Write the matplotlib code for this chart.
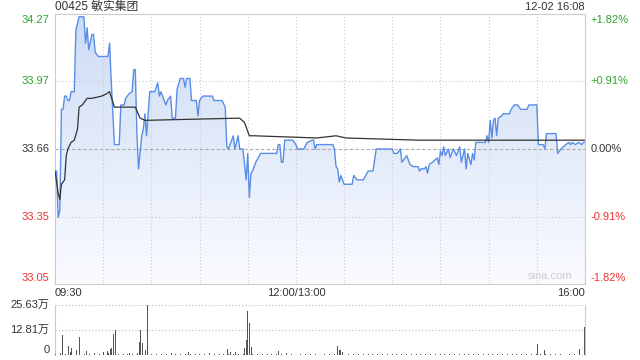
import numpy as np
import matplotlib.pyplot as plt
from matplotlib.patches import Polygon

plt.rcParams['font.family'] = ['Liberation Sans', 'Noto Sans CJK SC', 'DejaVu Sans']

# minutes after 09:30 (12:00 and 13:00 share minute 150), close at 330
prev_close = 33.66
y_labels_left = ['34.27', '33.97', '33.66', '33.35', '33.05']
y_labels_right = ['+1.82%', '+0.91%', '0.00%', '-0.91%', '-1.82%']
y_ticks = [34.27, 33.97, 33.66, 33.35, 33.05]
x_labels = ['09:30', '12:00/13:00', '16:00']

price_min = [0, 1, 2, 3, 4, 5, 6, 7, 8, 9, 10, 12, 13, 15, 18, 19, 20, 21, 23, 24,
             25, 27, 33, 34, 35, 37, 40, 41, 43, 44, 46, 48, 49, 50, 51, 52, 54, 55, 56, 57,
             59, 62, 64, 65, 66, 67, 69, 70, 72, 73, 75, 76, 78, 80, 81, 82, 84, 85, 88, 89,
             90, 92, 98, 99, 104, 106, 107, 108, 109, 111, 112, 114, 115, 117, 119, 120, 121, 122, 123, 125,
             128, 138, 139, 140, 141, 142, 143, 148, 150, 151, 155, 157, 160, 161, 162, 163, 165, 173, 174, 175,
             176, 177, 178, 180, 185, 186, 188, 192, 195, 198, 200, 210, 211, 213, 215, 216, 219, 221, 223, 226,
             227, 228, 230, 231, 232, 233, 235, 238, 239, 240, 241, 242, 243, 245, 246, 248, 250, 252, 253, 255,
             256, 257, 259, 260, 261, 262, 268, 269, 270, 271, 272, 273, 274, 275, 276, 278, 279, 283, 284, 286,
             288, 290, 294, 295, 300, 301, 304, 305, 306, 312, 313, 315, 318, 320, 321, 322, 324, 326, 328, 329,
             330]
price_val = [33.56, 33.56, 33.35, 33.38, 33.84, 33.84, 33.90, 33.90, 33.88, 33.88, 33.92, 33.92, 34.20, 34.26, 34.26, 34.14, 34.21, 34.11, 34.18, 34.18,
             34.10, 34.08, 34.08, 34.14, 33.97, 33.68, 33.68, 33.86, 33.86, 33.89, 33.91, 33.92, 34.02, 34.02, 33.73, 33.57, 33.72, 33.75, 33.82, 33.72,
             33.92, 33.92, 33.96, 33.90, 33.92, 33.90, 33.86, 33.88, 33.90, 33.80, 33.80, 33.93, 33.98, 33.98, 33.94, 33.98, 33.98, 33.88, 33.88, 33.81,
             33.88, 33.90, 33.90, 33.88, 33.88, 33.85, 33.67, 33.66, 33.68, 33.72, 33.66, 33.72, 33.66, 33.66, 33.52, 33.64, 33.44, 33.55, 33.56, 33.60,
             33.64, 33.64, 33.68, 33.68, 33.60, 33.60, 33.70, 33.70, 33.68, 33.66, 33.66, 33.69, 33.70, 33.70, 33.66, 33.68, 33.68, 33.68, 33.66, 33.58,
             33.57, 33.51, 33.54, 33.50, 33.50, 33.54, 33.52, 33.52, 33.56, 33.56, 33.66, 33.66, 33.64, 33.64, 33.66, 33.60, 33.63, 33.59, 33.58, 33.58,
             33.56, 33.57, 33.57, 33.58, 33.55, 33.59, 33.60, 33.62, 33.59, 33.65, 33.63, 33.67, 33.63, 33.66, 33.62, 33.66, 33.63, 33.67, 33.60, 33.66,
             33.57, 33.64, 33.59, 33.64, 33.61, 33.69, 33.69, 33.72, 33.69, 33.79, 33.71, 33.79, 33.80, 33.72, 33.80, 33.81, 33.82, 33.82, 33.84, 33.86,
             33.86, 33.84, 33.84, 33.86, 33.86, 33.68, 33.68, 33.66, 33.73, 33.73, 33.64, 33.66, 33.68, 33.69, 33.68, 33.69, 33.68, 33.69, 33.68, 33.69,
             33.69]

avg_min = [0, 2, 3, 4, 6, 7, 8, 10, 12, 14, 15, 17, 20, 23, 29, 32, 34, 37, 50, 53,
           56, 115, 118, 121, 124, 163, 175, 181, 227, 263, 290, 330]
avg_val = [33.56, 33.46, 33.43, 33.50, 33.52, 33.63, 33.66, 33.69, 33.70, 33.75, 33.85, 33.86, 33.89, 33.89, 33.90, 33.91, 33.92, 33.85, 33.85, 33.80,
           33.79, 33.80, 33.78, 33.72, 33.72, 33.71, 33.72, 33.71, 33.70, 33.70, 33.70, 33.70]

# volume in 万 shares
vol_max = 25.63
vol_small = [0.5, 0.8, 0.6, 0.9, 0.7, 0.5, 0.6, 0.4, 0.8, 0.5,
             0.6, 0.9, 0.5, 0.7, 0.6, 0.4, 0.5, 0.8, 0.6, 0.5,
             0.7, 0.4, 0.6, 0.5, 0.9, 0.5, 0.6, 0.4, 0.7, 0.5,
             0.6, 0.5, 0.8, 0.4, 0.6, 0.5, 0.7, 0.5, 0.6, 0.4,
             0.5, 0.6, 0.4, 0.7, 0.5, 0.6, 0.4, 0.5, 0.8, 0.5,
             0.6, 0.4, 0.5, 0.6, 0.4, 0.7, 0.5, 0.4, 0.6, 0.5,
             0.4, 0.6, 0.5, 0.7, 0.4, 0.5, 0.6, 0.4, 0.5, 0.6,
             0.4, 0.5, 0.7, 0.4, 0.6, 0.5, 0.4, 0.6, 0.5, 0.4,
             0.6, 0.5, 0.4, 0.7, 0.5, 0.4, 0.6, 0.5, 0.4, 0.5,
             0.6, 0.4, 0.5, 0.6, 0.4, 0.5, 0.7, 0.4, 0.5, 0.6,
             0.4, 0.5, 0.6, 0.4, 0.5, 0.6, 0.4, 0.5, 0.6, 0.5, 0.6]
vol_min = [4, 8, 9, 10, 13, 15, 19, 30, 32, 34, 35, 36, 37, 46, 52, 53, 54, 56, 57, 83,
           107, 109, 112, 118, 119, 120, 121, 122, 139, 176, 177, 178, 179, 301, 305, 327, 330]
vol_val = [10.3, 4.6, 1.7, 3.8, 2.6, 9.4, 2.0, 1.4, 2.0, 3.1, 3.4, 10.6, 12.8, 0.9, 6.5, 12.8, 6.0, 2.6, 25.63, 1.7,
           3.1, 1.4, 1.7, 3.8, 7.7, 22.6, 16.2, 4.3, 2.0, 4.6, 2.6, 2.6, 1.7, 5.6, 2.6, 2.9, 14.2]

green = '#2aa52a'
red = '#f23030'
dark = '#333333'
label_colors = [green, green, dark, red, red]

ymin, ymax = prev_close - 0.6126, prev_close + 0.6126

fig = plt.figure(figsize=(6.4, 3.6), dpi=100)
ax = fig.add_axes([55/640, 76/360, 530/640, 270/360])
vax = fig.add_axes([55/640, 5/360, 530/640, 50/360])

# gradient fill under the price line
verts = list(zip(price_min, price_val)) + [(330, ymin), (0, ymin)]
poly = Polygon(verts, closed=True, facecolor='none', edgecolor='none')
ax.add_patch(poly)
g = np.linspace(0, 1, 256)[:, None, None]
top_c = np.array([0.80, 0.86, 0.96])
bot_c = np.array([0.98, 0.985, 1.0])
img = top_c * (1 - g) + bot_c * g
im = ax.imshow(img, extent=[0, 330, ymin, ymax], aspect='auto', origin='upper', zorder=1)
im.set_clip_path(poly)

ax.plot(price_min, price_val, color='#5a8de6', lw=1.0, zorder=3)
ax.plot(avg_min, avg_val, color=dark, lw=0.9, zorder=4)

ax.set_xlim(0, 330)
ax.set_ylim(ymin, ymax)
for t in range(30, 330, 30):
    ax.axvline(t, color='#cccccc', lw=0.8, ls=(0, (1, 2)), zorder=2)
for v in [33.97, 33.35]:
    ax.axhline(v, color='#cccccc', lw=0.8, ls=(0, (1, 2)), zorder=2)
ax.axhline(prev_close, color='#aaaaaa', lw=0.8, ls=(0, (3, 2)), zorder=2)
ax.set_xticks([])
ax.set_yticks([])
for s in ax.spines.values():
    s.set_color('#cccccc')

tr = ax.get_yaxis_transform()
for i, (v, l, r, c) in enumerate(zip(y_ticks, y_labels_left, y_labels_right, label_colors)):
    va = 'top' if i == 0 else ('bottom' if i == 4 else 'center')
    ax.text(-0.01, v, l, transform=tr, ha='right', va=va, color=c, fontsize=8)
    ax.text(1.01, v, r, transform=tr, ha='left', va=va, color=c, fontsize=8)

ax.text(0, -0.015, x_labels[0], transform=ax.transAxes, ha='left', va='top', fontsize=8, color=dark)
ax.text(150/330, -0.015, x_labels[1], transform=ax.transAxes, ha='center', va='top', fontsize=8, color=dark)
ax.text(1, -0.015, x_labels[2], transform=ax.transAxes, ha='right', va='top', fontsize=8, color=dark)
ax.text(0.976, 0.01, 'sina.com', transform=ax.transAxes, ha='right', va='bottom', fontsize=8, color='#cccccc')

fig.text(55/640, 1 - 7/360, '00425 敏实集团', ha='left', va='center', fontsize=8.5, color=dark)
fig.text(585/640, 1 - 7/360, '12-02 16:08', ha='right', va='center', fontsize=8, color=dark)

# volume panel
vols = {}
for i, v in enumerate(vol_small):
    vols[i * 3] = v
for m, v in zip(vol_min, vol_val):
    vols[m] = v
vax.bar(list(vols.keys()), list(vols.values()), width=0.6, color='#555555', zorder=3)
vax.set_xlim(-0.5, 330.5)
vax.set_ylim(0, vol_max)
vax.axhline(vol_max, color='#bbbbbb', lw=0.8, ls=(0, (1, 2)))
vax.axhline(vol_max / 2, color='#bbbbbb', lw=0.8, ls=(0, (1, 2)))
vax.set_xticks([])
vax.set_yticks([])
vax.spines['top'].set_visible(False)
vax.spines['bottom'].set_visible(False)
vax.spines['left'].set_color('#cccccc')
vax.spines['right'].set_color('#cccccc')
vtr = vax.get_yaxis_transform()
vax.text(-0.01, vol_max, '25.63万', transform=vtr, ha='right', va='center', fontsize=8, color=dark)
vax.text(-0.01, 12.81, '12.81万', transform=vtr, ha='right', va='center', fontsize=8, color=dark)
vax.text(-0.01, 0, '0', transform=vtr, ha='right', va='bottom', fontsize=8, color=dark)

plt.savefig('out.png', dpi=100)
